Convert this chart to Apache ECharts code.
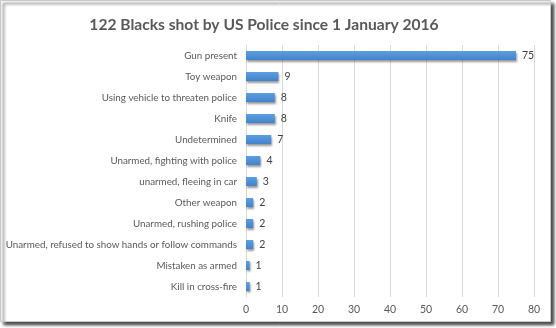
<!DOCTYPE html>
<html>
<head>
<meta charset="utf-8">
<script src="https://cdn.jsdelivr.net/npm/echarts@6/dist/echarts.min.js"></script>
<style>html,body{margin:0;padding:0;background:#fff;}#c{width:556px;height:328px;}</style>
</head>
<body>
<div id="c"></div>
<script>
const titleText = "122 Blacks shot by US Police since 1 January 2016";
const categories = [
  "Gun present",
  "Toy weapon",
  "Using vehicle to threaten police",
  "Knife",
  "Undetermined",
  "Unarmed, fighting with police",
  "unarmed, fleeing in car",
  "Other weapon",
  "Unarmed, rushing police",
  "Unarmed, refused to show hands or follow commands",
  "Mistaken as armed",
  "Kill in cross-fire"
];
const values = [75, 9, 8, 8, 7, 4, 3, 2, 2, 2, 1, 1];
const xMin = 0, xMax = 80, xStep = 10;

const chart = echarts.init(document.getElementById('c'), null, {renderer: 'canvas'});
const font = 'Lato';
chart.setOption({
  animation: false,
  backgroundColor: '#fff',
  graphic: [{
    type: 'rect', z: -10, silent: true,
    shape: {x: 0.5, y: 0.5, width: 550, height: 321},
    style: {fill: '#fff', stroke: '#c8c8c8', lineWidth: 1,
      shadowBlur: 3, shadowOffsetX: 3, shadowOffsetY: 3, shadowColor: 'rgba(0,0,0,0.75)'}
  }],
  title: {
    text: titleText, left: 259, top: 12, textAlign: 'center',
    textStyle: {fontFamily: font, fontSize: 15.6, fontWeight: 'bold', color: '#595959'}
  },
  grid: {left: 246, right: 22, top: 45, bottom: 31, containLabel: false, outerBoundsMode: 'none'},
  xAxis: {
    type: 'value', min: xMin, max: xMax, interval: xStep,
    axisLine: {show: false}, axisTick: {show: false},
    splitLine: {lineStyle: {color: '#d9d9d9'}},
    axisLabel: {fontFamily: font, fontSize: 10.5, color: '#595959', margin: 7}
  },
  yAxis: {
    type: 'category', data: categories, inverse: true,
    axisLine: {show: true, lineStyle: {color: '#d9d9d9'}}, axisTick: {show: false},
    axisLabel: {fontFamily: font, fontSize: 9.8, color: '#595959', margin: 9}
  },
  series: [{
    type: 'bar', data: values, barWidth: 9,
    itemStyle: {
      color: new echarts.graphic.LinearGradient(0, 0, 0, 1, [
        {offset: 0, color: '#5d9ee0'}, {offset: 1, color: '#4383cc'}]),
      shadowColor: 'rgba(0,0,0,0.4)', shadowBlur: 2, shadowOffsetX: 1, shadowOffsetY: 1.5
    },
    label: {show: true, position: 'right', distance: 6, fontFamily: font, fontSize: 10.5, color: '#404040'}
  }]
});
</script>
</body>
</html>
